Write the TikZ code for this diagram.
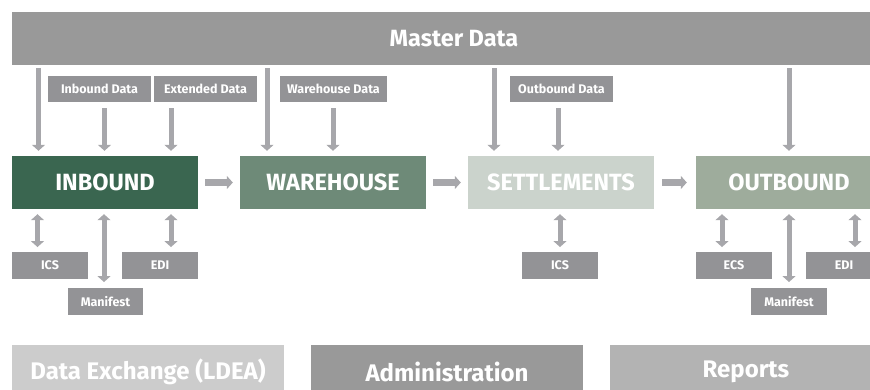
\documentclass[tikz,border=0pt]{standalone}
\usepackage{fontspec}
\setmainfont{Fira Sans}
\usetikzlibrary{arrows.meta}
\definecolor{mastergray}{HTML}{999999}
\definecolor{labelgray}{HTML}{939396}
\definecolor{arrowgray}{HTML}{A7A7AB}
\definecolor{inboundgreen}{HTML}{3A6650}
\definecolor{warehousegreen}{HTML}{6E8A78}
\definecolor{settlegreen}{HTML}{CBD3CC}
\definecolor{outboundgreen}{HTML}{9EAC9C}
\definecolor{bottomlight}{HTML}{CCCCCC}
\definecolor{bottommid}{HTML}{999999}
\definecolor{bottomright}{HTML}{B3B3B3}
\tikzset{
  box/.style={rectangle, inner sep=0pt, text=white, font=\bfseries},
  bigbox/.style={box, minimum width=186pt, minimum height=53pt, font=\bfseries\fontsize{23.5}{25}\selectfont},
  smallbox/.style={box, fill=labelgray, minimum height=26.5pt, font=\bfseries\fontsize{12.5}{14}\selectfont},
  bottombox/.style={box, minimum width=272pt, minimum height=53pt, font=\bfseries\fontsize{24}{26}\selectfont},
  varrow/.style={draw=arrowgray, line width=5pt, -{Triangle[width=13pt,length=6pt]}},
  dblarrow/.style={draw=arrowgray, line width=5pt, {Triangle[width=13pt,length=6pt]}-{Triangle[width=13pt,length=6pt]}},
  harrow/.style={draw=arrowgray, line width=7.5pt, -{Triangle[width=13pt,length=6pt]}},
}
\begin{document}
\begin{tikzpicture}[x=1pt,y=-1pt]
\useasboundingbox (0,0) rectangle (870,389);
% Master data
\node[box, fill=mastergray, minimum width=884pt, minimum height=53pt] (master) at (454,38.5) {};
\node[box, font=\bfseries\fontsize{23.5}{25}\selectfont] (mastertxt) at (454,38.5) {Master Data};
% data labels
\node[smallbox, minimum width=103pt] (inbdata) at (99.5,89) {Inbound Data};
\node[smallbox, minimum width=103pt] (extdata) at (205.5,89) {Extended Data};
\node[smallbox, minimum width=107pt] (whdata) at (333.5,89) {Warehouse Data};
\node[smallbox, minimum width=103pt] (outdata) at (561.5,89) {Outbound Data};
% main boxes
\node[bigbox, fill=inboundgreen] (inbound) at (105,182.5) {INBOUND};
\node[bigbox, fill=warehousegreen] (warehouse) at (333,182.5) {WAREHOUSE};
\node[bigbox, fill=settlegreen] (settle) at (561,182.5) {SETTLEMENTS};
\node[bigbox, fill=outboundgreen] (outbound) at (789,182.5) {OUTBOUND};
% lower labels
\node[smallbox, minimum width=76pt] (ics1) at (50,265.5) {ICS};
\node[smallbox, minimum width=76pt] (edi1) at (160,265.5) {EDI};
\node[smallbox, minimum width=75pt] (man1) at (105.5,301.5) {Manifest};
\node[smallbox, minimum width=76pt] (ics2) at (560,265.5) {ICS};
\node[smallbox, minimum width=76pt] (ecs) at (734,265.5) {ECS};
\node[smallbox, minimum width=76pt] (edi2) at (844,265.5) {EDI};
\node[smallbox, minimum width=76pt] (man2) at (789,301.5) {Manifest};
% bottom boxes
\node[bottombox, fill=bottomlight] (dex) at (148,371.5) {Data Exchange (LDEA)};
\node[bottombox, fill=bottommid] (admin) at (447,371.5) {Administration};
\node[bottombox, fill=bottomright] (reports) at (746,371.5) {Reports};
% coordinates for arrow columns
\coordinate (c1) at (38.5,0);
\coordinate (c2) at (267,0);
\coordinate (c3) at (494,0);
\coordinate (c4) at (789,0);
\coordinate (d1) at (104.5,0);
\coordinate (d2) at (171,0);
\coordinate (d3) at (333,0);
\coordinate (d4) at (558,0);
\coordinate (e1) at (37.5,0);
\coordinate (e2) at (104,0);
\coordinate (e3) at (171,0);
\coordinate (e4) at (560,0);
\coordinate (e5) at (722,0);
\coordinate (e6) at (789,0);
\coordinate (e7) at (855,0);
% master arrows
\draw[varrow, shorten <=3pt, shorten >=5pt] (c1 |- master.south) -- (c1 |- inbound.north);
\draw[varrow, shorten <=3pt, shorten >=5pt] (c2 |- master.south) -- (c2 |- warehouse.north);
\draw[varrow, shorten <=3pt, shorten >=5pt] (c3 |- master.south) -- (c3 |- settle.north);
\draw[varrow, shorten <=3pt, shorten >=5pt] (c4 |- master.south) -- (c4 |- outbound.north);
% data label arrows
\draw[varrow, shorten <=6pt, shorten >=5pt] (d1 |- inbdata.south) -- (d1 |- inbound.north);
\draw[varrow, shorten <=6pt, shorten >=5pt] (d2 |- extdata.south) -- (d2 |- inbound.north);
\draw[varrow, shorten <=6pt, shorten >=5pt] (d3 |- whdata.south) -- (d3 |- warehouse.north);
\draw[varrow, shorten <=6pt, shorten >=5pt] (d4 |- outdata.south) -- (d4 |- settle.north);
% flow arrows
\draw[harrow, shorten <=7pt, shorten >=7pt] (inbound.east) -- (warehouse.west);
\draw[harrow, shorten <=7pt, shorten >=7pt] (warehouse.east) -- (settle.west);
\draw[harrow, shorten <=8pt, shorten >=9pt] (settle.east) -- (outbound.west);
% exchange arrows
\draw[dblarrow, shorten <=5pt, shorten >=5pt] (e1 |- inbound.south) -- (e1 |- ics1.north);
\draw[dblarrow, shorten <=5pt, shorten >=6pt] (e2 |- inbound.south) -- (e2 |- man1.north);
\draw[dblarrow, shorten <=5pt, shorten >=5pt] (e3 |- inbound.south) -- (e3 |- edi1.north);
\draw[dblarrow, shorten <=5pt, shorten >=5pt] (e4 |- settle.south) -- (e4 |- ics2.north);
\draw[dblarrow, shorten <=5pt, shorten >=5pt] (e5 |- outbound.south) -- (e5 |- ecs.north);
\draw[dblarrow, shorten <=5pt, shorten >=6pt] (e6 |- outbound.south) -- (e6 |- man2.north);
\draw[dblarrow, shorten <=5pt, shorten >=5pt] (e7 |- outbound.south) -- (e7 |- edi2.north);
\end{tikzpicture}
\end{document}
